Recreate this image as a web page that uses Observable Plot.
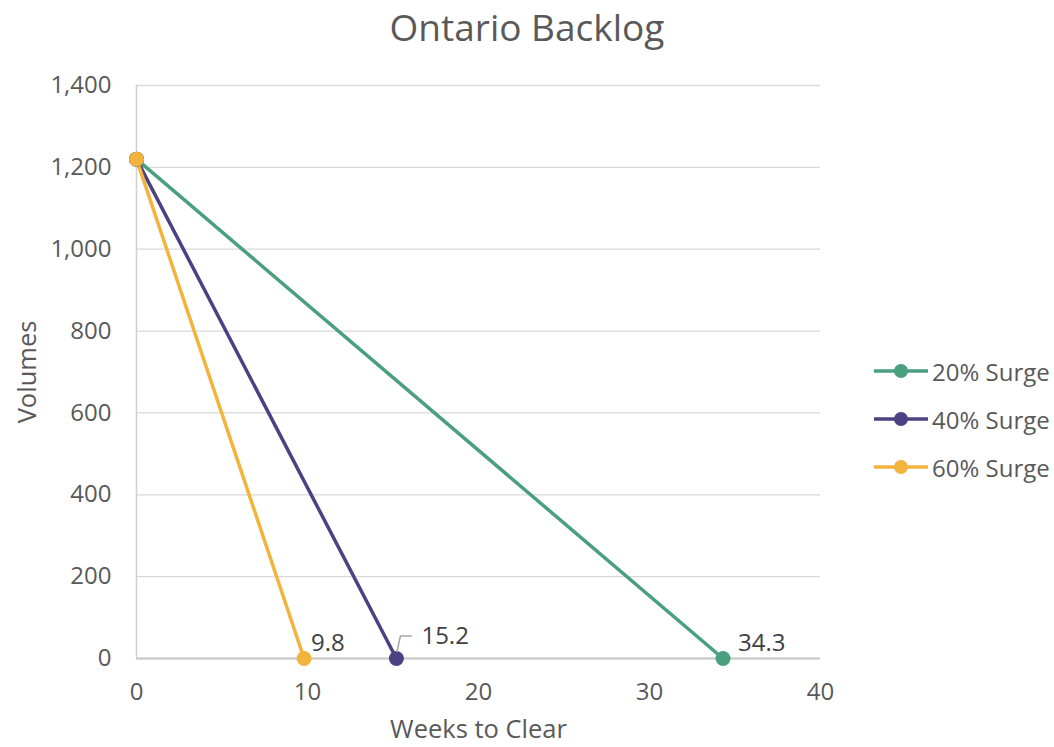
<!DOCTYPE html>
<html>
<head>
<meta charset="utf-8">
<script src="https://cdn.jsdelivr.net/npm/d3@7"></script>
<script src="https://cdn.jsdelivr.net/npm/@observablehq/plot@0.6"></script>
<style>
  html, body { margin: 0; padding: 0; background: #fff; }
  body { width: 1054px; height: 747px; position: relative; overflow: hidden; font-family: "Open Sans", sans-serif; }
  #title { position: absolute; left: 0; width: 1054px; top: 2px; text-align: center; font-size: 37px; line-height: 50px; color: #595959; }
  #chart { position: absolute; left: 0; top: 0; }
  #legend { position: absolute; left: 872px; top: 347px; }
  .lg { display: flex; align-items: center; height: 48px; font-size: 24px; color: #595959; }
  .lg svg { margin-right: 4px; }
</style>
</head>
<body>
<div id="chart"></div>
<div id="title">Ontario Backlog</div>
<div id="legend"></div>
<script>
const series = ["20% Surge", "40% Surge", "60% Surge"];
const colors = ["#4a9f7f", "#4a4282", "#f3b43e"];
const startVolume = 1220;
const weeksToClear = [34.3, 15.2, 9.8];
const labels = ["34.3", "15.2", "9.8"];
const yTicks = [0, 200, 400, 600, 800, 1000, 1200, 1400];
const xTicks = [0, 10, 20, 30, 40];

const rows = [];
series.forEach((s, i) => {
  rows.push({series: s, week: 0, volume: startVolume});
  rows.push({series: s, week: weeksToClear[i], volume: 0});
});
const ends = series.map((s, i) => ({series: s, week: weeksToClear[i], volume: 0, label: labels[i]}));
const starts = series.map((s) => ({series: s, week: 0, volume: startVolume}));

const leader = (index, scales) => {
  const x0 = scales.x(weeksToClear[1]), y0 = scales.y(0);
  const p = document.createElementNS("http://www.w3.org/2000/svg", "path");
  p.setAttribute("d", `M${x0 + 1},${y0 - 6}L${x0 + 4.5},${y0 - 22}L${x0 + 16},${y0 - 22}`);
  p.setAttribute("fill", "none");
  p.setAttribute("stroke", "#a6a6a6");
  p.setAttribute("stroke-width", 1.5);
  return p;
};

const labelText = (i, dx, dy) => Plot.text([ends[i]], {x: "week", y: "volume", text: "label",
  textAnchor: "start", dx, dy, fill: "#404040", fontSize: 24});

const chart = Plot.plot({
  width: 1054,
  height: 747,
  marginLeft: 136,
  marginRight: 234,
  marginTop: 85,
  marginBottom: 89,
  style: {fontFamily: "Open Sans, sans-serif", fontSize: "24px", color: "#595959", background: "transparent"},
  x: {domain: [0, 40], ticks: xTicks},
  y: {domain: [0, 1400], ticks: yTicks},
  color: {domain: series, range: colors},
  marks: [
    Plot.gridY(yTicks, {stroke: "#d9d9d9", strokeOpacity: 1, strokeWidth: 1.3}),
    Plot.ruleX([0], {stroke: "#d0d0d0", strokeWidth: 1.5}),
    Plot.ruleY([0], {stroke: "#c8c8c8", strokeWidth: 2}),
    Plot.axisX(xTicks, {tickSize: 0, tickPadding: 24, label: null, fill: "#595959", fontSize: 24}),
    Plot.axisY(yTicks, {tickSize: 0, tickPadding: 25, tickFormat: d3.format(","), label: null, fill: "#595959", fontSize: 24}),
    Plot.text(["Weeks to Clear"], {frameAnchor: "bottom", textAnchor: "middle", dy: 71, fill: "#595959", fontSize: 25.5, lineAnchor: "middle"}),
    Plot.text(["Volumes"], {frameAnchor: "left", textAnchor: "middle", dx: -109, rotate: -90, fill: "#595959", fontSize: 25.5, lineAnchor: "middle"}),
    Plot.line(rows, {x: "week", y: "volume", z: "series", stroke: "series", strokeWidth: 3.5}),
    Plot.dot(ends, {x: "week", y: "volume", fill: "series", r: 7.5}),
    Plot.dot(starts, {x: "week", y: "volume", fill: "series", r: 7.5}),
    leader,
    labelText(0, 15, -15),
    labelText(1, 25, -22),
    labelText(2, 7, -15)
  ]
});
document.getElementById("chart").appendChild(chart);

const legend = document.getElementById("legend");
series.forEach((s, i) => {
  const row = document.createElement("div");
  row.className = "lg";
  row.innerHTML = `<svg width="56" height="20"><line x1="2" x2="56" y1="10" y2="10" stroke="${colors[i]}" stroke-width="3.5"/><circle cx="29" cy="10" r="7" fill="${colors[i]}"/></svg><span>${s}</span>`;
  legend.appendChild(row);
});
</script>
</body>
</html>
